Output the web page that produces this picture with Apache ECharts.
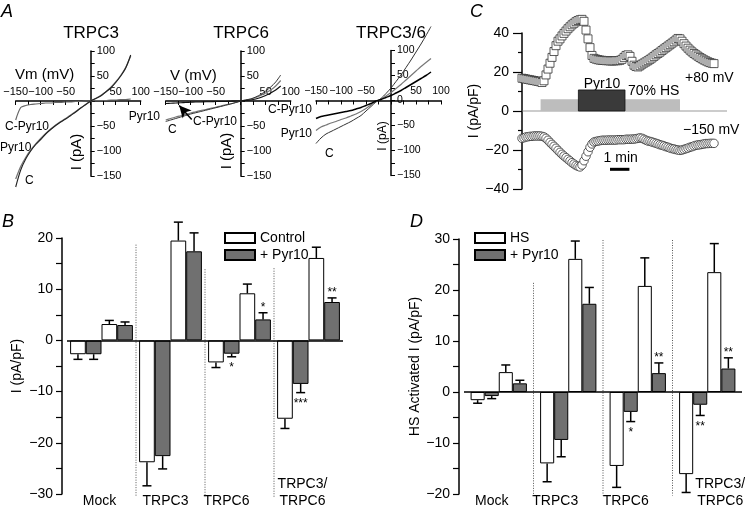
<!DOCTYPE html>
<html>
<head>
<meta charset="utf-8">
<script src="https://cdn.jsdelivr.net/npm/echarts@6/dist/echarts.min.js"></script>
<style>
  html, body { margin: 0; padding: 0; background: #fff; }
  #chart { width: 745px; height: 508px; }
</style>
</head>
<body>
<div id="chart"></div>
<script>
const FONT = '"Liberation Sans", Arial, Helvetica, sans-serif';

// ---- Panel A: ramp I-V curves (pA) ----
const rampVoltage = [-150, -140, -130, -120, -110, -100, -90, -80, -70, -60, -50, -40,
  -30, -20, -10, 0, 10, 20, 30, 40, 50, 60, 70, 80];
const trpc3C = [-172, -138, -116, -100, -87, -77, -66, -57, -49, -42, -36, -29, -22, -14, -7, 0, 5, 10, 18, 26, 37, 50, 66, 92];
const trpc3Pyr = [-156, -131, -113, -98, -86, -75, -65, -56, -48, -41, -35, -28, -21, -14, -7, 0, 5, 11, 18, 27, 38, 51, 67, 90];
const trpc3Diff = [-38, -13, -9, -7, -6, -5, -4, -4, -3, -3, -2, -2, -1, -1, 0, 0, 1, 1, 1, 2, 2, 3, 3, 4];
const trpc6C = [-41, -38, -35, -32, -29, -26, -23.5, -21, -18.5, -16, -13.5, -11, -8.5, -6, -3, 0, 2, 4, 8, 13, 20, 28, 38, 52];
const trpc6Pyr = [-38, -35, -32, -29.5, -27, -24, -21.5, -19, -17, -14.5, -12.5, -10, -7.5, -5.5, -3, 0, 2, 4, 7, 11, 16, 22, 30, 41];
const trpc6Diff = [-5, -4.5, -4, -3.5, -3, -2.5, -2, -2, -1.5, -1.5, -1, -1, -1, -0.5, 0, 0, 1, 2, 4, 7, 11, 16, 22, 30];
const trpc36C = [-86, -75, -67, -62, -57, -52, -47, -42, -36, -30, -21, -12, -3, 4, 14, 25, 38, 51, 66, 81, 97, 113, 130, 148];
const trpc36Pyr = [-60, -53, -49, -45, -42, -38, -35, -31, -27, -22, -16, -9, -2, 3, 9, 16, 24, 32, 41, 50, 59, 68, 76, 84];
const trpc36Diff = [-36, -32, -30, -28, -26, -24, -22, -20, -17, -14, -10, -6, -1, 2, 6, 10, 15, 20, 26, 32, 38, 44, 50, 57];
const trpc6Arrow = [[-98, -37], [-123, -9]];

// ---- Panel C: time course (pA/pF), one value per sweep ----
const currentAt80 = [16.8, 16.6, 16.4, 16.2, 16.0, 15.8, 15.6, 15.4, 15.2, 15.0, 14.6,
  15.5, 18.5, 21.5, 24.5, 27.5, 30.5, 33.5, 35.8,
  37.0, 38.5, 39.8, 41.0, 42.2, 43.2, 44.2, 45.0, 45.8, 46.4, 46.8,
  47.0, 46.0, 41.5, 37.0, 32.5, 28.5, 27.0,
  26.6, 26.3, 26.1, 26.0, 25.9, 25.8, 25.8, 25.7, 25.7, 25.7, 25.8, 25.8,
  26.0, 26.5, 27.5, 28.5, 28.8, 28.0, 25.5, 23.5, 22.8, 22.6,
  23.2, 24.0, 24.6, 25.2, 25.8, 26.5, 27.2, 28.0, 28.8, 29.5, 30.2, 31.0, 31.8, 32.5, 33.3, 34.0, 34.8, 35.5, 36.4, 37.2,
  37.0, 35.8, 34.5, 33.3, 32.2, 31.2, 30.3, 29.5, 28.8, 28.1, 27.4, 26.8, 26.2, 25.7, 25.2, 24.8, 24.5, 24.3];
const currentAtMinus150 = [-14.0, -13.7, -13.3, -13.2, -13.0, -13.0, -12.8, -12.8, -12.8, -12.8, -13.0,
  -13.3, -14.0, -15.0, -16.1, -17.1, -18.1, -19.1, -20.2, -21.2, -22.2, -23.1, -23.9, -24.8, -25.6, -26.5,
  -27.2, -27.9, -28.4, -28.7, -27.7, -25.5, -23.2, -20.9, -18.6, -16.9, -15.9, -15.6, -15.4, -15.2,
  -15.0, -15.0, -15.0, -14.9, -14.9, -14.9, -14.9, -14.9, -14.7, -14.7, -14.7, -14.7, -14.5, -14.5,
  -14.5, -14.4, -14.4, -14.2, -14.0, -13.8, -14.0, -14.5, -15.0, -15.4, -15.6, -15.9, -16.2, -16.6,
  -16.9, -17.3, -17.6, -17.9, -18.3, -18.6, -19.0, -19.3, -19.5, -19.8, -20.0, -20.2, -20.0, -19.7,
  -19.3, -19.0, -18.6, -18.3, -17.9, -17.6, -17.4, -17.3, -17.1, -16.9, -16.7, -16.7, -16.6, -16.6, -16.6];
const hsWindow = [9.3, 79];      // sweep index
const pyrWindow = [28.2, 51.5];
const hsLevel = 6;
const pyrLevel = 10.8;
const baselineSpan = [0.3, 102.5];
const oneMinute = [44, 53.7];
const scaleBarLevel = -29.9;

// ---- Panels B and D: bar charts (pA/pF) ----
const groups = ['Mock', 'TRPC3', 'TRPC6', 'TRPC3/\nTRPC6'];
const bControlNeg = [-2.7, -23.8, -4.3, -15.3];
const bControlNegErr = [-3.7, -28.4, -5.3, -17.2];
const bPyrNeg = [-2.7, -22.6, -2.6, -8.5];
const bPyrNegErr = [-3.7, -25.1, -3.2, -10.2];
const bControlPos = [3.2, 19.5, 9.2, 16.1];
const bControlPosErr = [3.9, 23.1, 11.0, 18.2];
const bPyrPos = [3.0, 17.4, 4.1, 7.5];
const bPyrPosErr = [3.6, 21.0, 5.4, 8.3];
const bStarsNeg = ['', '', '*', '***'];
const bStarsPos = ['', '', '*', '**'];
const bSeparatorTops = [18.7, 13.9, 14.1];

const dHsNeg = [-1.6, -14.0, -14.5, -16.1];
const dHsNegErr = [-2.2, -17.6, -18.7, -19.7];
const dPyrNeg = [-0.8, -9.4, -3.9, -2.5];
const dPyrNegErr = [-1.3, -12.7, -5.8, -4.6];
const dHsPos = [3.9, 26.1, 20.8, 23.5];
const dHsPosErr = [5.3, 29.6, 26.3, 29.1];
const dPyrPos = [1.7, 17.3, 3.7, 4.6];
const dPyrPosErr = [2.3, 20.5, 5.7, 6.7];
const dStarsNeg = ['', '', '*', '**'];
const dStarsPos = ['', '', '**', '**'];
const dSeparatorTops = [21.4, 29.8, 29.8];

const separatorPos = [0.5, 1.5, 2.5];

const WHITE = '#ffffff';
const GRAY = '#707070';

const fmt = v => (v < 0 ? '\u2212' + (-v) : String(v));
const pairs = (xs, ys) => xs.map((x, i) => [x, ys[i]]);

function txt(text, x, y, size, opts = {}) {
  const align = opts.align || 'left';
  return {
    type: 'text', x: x, y: y, rotation: opts.rot || 0, silent: true,
    style: {
      text: text, fill: '#000',
      font: (opts.italic ? 'italic ' : '') + size + 'px ' + FONT,
      textAlign: align, textVerticalAlign: 'middle', align: align, verticalAlign: 'middle'
    }
  };
}

/**
 * Axes of one I-V panel. The axes cross at the origin, placed there by offsets
 * (the panel is 125 px for 250 units, so 0 sits 75 px in from the bottom and the left).
 */
function ivAxes(gi, fs, zeroLabel) {
  const x = {
    gridIndex: gi, type: 'value', min: -150, max: 100, interval: 25, position: 'bottom', offset: -75,
    axisLine: { onZero: false, lineStyle: { color: '#000', width: 1.5 } },
    axisTick: { inside: false, length: 4, lineStyle: { color: '#000', width: 1 } },
    axisLabel: { inside: true, margin: 4, fontSize: fs, color: '#000', fontFamily: FONT,
      formatter: v => (v % 50 === 0 && v !== 0 ? fmt(v) : '') },
    splitLine: { show: false }
  };
  const y = {
    gridIndex: gi, type: 'value', min: -150, max: 100, interval: 25, position: 'left', offset: -75,
    axisLine: { onZero: false, lineStyle: { color: '#000', width: 1.5 } },
    axisTick: { inside: true, length: 4, lineStyle: { color: '#000', width: 1 } },
    axisLabel: { inside: true, margin: 6, fontSize: fs, color: '#000', fontFamily: FONT,
      formatter: v => (v % 50 === 0 && (v !== 0 || zeroLabel) ? fmt(v) : '') },
    splitLine: { show: false }
  };
  return [x, y];
}

function ivLine(gi, values, color, width, extra = {}) {
  return Object.assign({
    type: 'line', xAxisIndex: gi, yAxisIndex: gi, data: pairs(rampVoltage, values),
    showSymbol: false, smooth: 0.3, clip: false, silent: true,
    lineStyle: { color: color, width: width }, z: 3
  }, extra);
}

/**
 * Axes for one bar panel: the category axis with the group labels and a hidden value axis for the separators.
 * Every label is set on two lines so that the last line of all labels sits at the same height.
 */
function barXAxes(gi, shifts) {
  const cats = groups.map((g, i) => {
    const s = shifts[i];
    return { value: g, textStyle: { padding: s < 0 ? [0, -2 * s, 0, 0] : [0, 0, 0, 2 * s] } };
  });
  return [
    { gridIndex: gi, type: 'category', data: cats, position: 'bottom',
      axisLine: { show: false, onZero: false }, axisTick: { show: false }, splitLine: { show: false },
      axisLabel: { interval: 0, margin: -18, fontSize: 14, lineHeight: 17, color: '#000', fontFamily: FONT,
        formatter: v => (v.indexOf('\n') >= 0 ? v : '\n' + v) } },
    { gridIndex: gi, type: 'value', min: -0.5, max: 3.5, show: false }
  ];
}

function barYAxis(gi, min, max, name, gap) {
  return {
    gridIndex: gi, type: 'value', min: min, max: max, interval: 5, offset: 5,
    axisLine: { show: true, onZero: false, lineStyle: { color: '#000', width: 1.5 } },
    axisTick: { show: true, length: 6, lineStyle: { color: '#000', width: 1.2 } },
    axisLabel: { fontSize: 14, color: '#000', margin: 9, fontFamily: FONT,
      formatter: v => (v % 10 === 0 ? fmt(v) : '') },
    splitLine: { show: false },
    name: name, nameLocation: 'middle', nameGap: gap,
    nameTextStyle: { fontSize: 14, color: '#000', fontFamily: FONT }
  };
}

function barSeries(xBar, xSep, yi, sets, gapFrac, sepTops, sepBottom) {
  const out = [];
  const frac = 1 - gapFrac;
  sets.forEach((s, k) => {
    const bar = {
      type: 'bar', name: s.name, xAxisIndex: xBar, yAxisIndex: yi, data: s.vals,
      barGap: '0%', barCategoryGap: Math.round(gapFrac * 100) + '%', silent: true,
      itemStyle: { color: s.fill, borderColor: '#000', borderWidth: 1 }, z: 2
    };
    if (k === sets.length - 1) {
      // zero line across the panel
      bar.markLine = {
        silent: true, symbol: 'none', label: { show: false }, z: 5,
        lineStyle: { color: '#000', width: 1.5, type: 'solid' },
        data: [{ yAxis: 0 }]
      };
    }
    out.push(bar);
    out.push({
      type: 'custom', xAxisIndex: xBar, yAxisIndex: yi, silent: true, z: 4,
      data: s.err.map((e, i) => [i, e]), encode: { x: 0, y: 1 },
      renderItem: (params, api) => {
        const i = api.value(0);
        const end = api.value(1);
        const band = api.size([1, 0])[0];
        const bw = band * frac / 4;
        const cx = api.coord([i, 0])[0] + (k - 1.5) * bw;
        const y0 = api.coord([i, s.vals[i]])[1];
        const y1 = api.coord([i, end])[1];
        const cap = 4.5;
        const children = [
          { type: 'line', shape: { x1: cx, y1: y0, x2: cx, y2: y1 }, style: { stroke: '#000', lineWidth: 1.5 } },
          { type: 'line', shape: { x1: cx - cap, y1: y1, x2: cx + cap, y2: y1 }, style: { stroke: '#000', lineWidth: 1.5 } }
        ];
        const star = s.stars ? s.stars[i] : '';
        if (star) {
          children.push({
            type: 'text', x: cx, y: end < 0 ? y1 + 11 : y1 - 5,
            style: { text: star, fill: '#000', font: '12px ' + FONT,
              align: 'center', verticalAlign: 'middle', textAlign: 'center', textVerticalAlign: 'middle' }
          });
        }
        return { type: 'group', children: children };
      }
    });
  });
  // dotted separators between groups
  out.push({
    type: 'custom', xAxisIndex: xSep, yAxisIndex: yi, silent: true, z: 1,
    data: separatorPos.map((p, i) => [p, sepTops[i], sepBottom]), encode: { x: 0, y: [1, 2] },
    renderItem: (params, api) => {
      const a = api.coord([api.value(0), api.value(1)]);
      const b = api.coord([api.value(0), api.value(2)]);
      return { type: 'line', shape: { x1: a[0], y1: a[1], x2: b[0], y2: b[1] },
        style: { stroke: '#555', lineWidth: 1, lineDash: [1, 1.5] } };
    }
  });
  return out;
}

const chart = echarts.init(document.getElementById('chart'), null, { renderer: 'canvas' });

const ax0 = ivAxes(0, 11, false);
const ax1 = ivAxes(1, 11, false);
const ax2 = ivAxes(2, 10.5, true);

const option = {
  animation: false,
  backgroundColor: '#fff',
  textStyle: { fontFamily: FONT, color: '#000' },
  grid: [
    { left: 15.7, top: 51, width: 125, height: 125, containLabel: false, outerBoundsMode: 'none' },
    { left: 165.7, top: 51, width: 125, height: 125, containLabel: false, outerBoundsMode: 'none' },
    { left: 316, top: 50.5, width: 125, height: 125, containLabel: false, outerBoundsMode: 'none' },
    { left: 522, top: 33, width: 206, height: 156, containLabel: false, outerBoundsMode: 'none' },
    { left: 67, top: 238, width: 276, height: 256, containLabel: false, outerBoundsMode: 'none' },
    { left: 464, top: 239, width: 278, height: 255, containLabel: false, outerBoundsMode: 'none' }
  ],
  xAxis: [
    ax0[0], ax1[0], ax2[0],
    { gridIndex: 3, type: 'value', min: 0, max: 103, show: false },
    ...barXAxes(4, [-2, -5, -13, -6]),
    ...barXAxes(5, [-7, -13, -12, 13])
  ],
  yAxis: [
    ax0[1], ax1[1], ax2[1],
    {
      gridIndex: 3, type: 'value', min: -40, max: 40, interval: 20,
      axisLine: { show: true, onZero: false, lineStyle: { color: '#000', width: 1.5 } },
      axisTick: { show: true, length: 9, lineStyle: { color: '#000', width: 1.2 } },
      minorTick: { show: true, splitNumber: 2, length: 4, lineStyle: { color: '#000', width: 1.2 } },
      axisLabel: { fontSize: 14, color: '#000', margin: 13, formatter: fmt, fontFamily: FONT },
      splitLine: { show: false },
      name: 'I (pA/pF)', nameLocation: 'middle', nameGap: 34,
      nameTextStyle: { fontSize: 14, color: '#000', fontFamily: FONT }
    },
    barYAxis(4, -30, 20, 'I (pA/pF)', 38),
    barYAxis(5, -20, 30, 'HS Activated I (pA/pF)', 37)
  ],
  legend: [
    { data: ['Control', '+ Pyr10'], orient: 'vertical', left: 219, top: 226, itemWidth: 30, itemHeight: 10,
      itemGap: 3, icon: 'rect', selectedMode: false, textStyle: { fontSize: 14, color: '#000', fontFamily: FONT } },
    { data: ['HS', '+ Pyr10'], orient: 'vertical', left: 469, top: 226, itemWidth: 30, itemHeight: 10,
      itemGap: 3, icon: 'rect', selectedMode: false, textStyle: { fontSize: 14, color: '#000', fontFamily: FONT } }
  ],
  series: [
    // A: TRPC3
    ivLine(0, trpc3Diff, '#666', 1.2),
    ivLine(0, trpc3Pyr, '#777', 1.3),
    ivLine(0, trpc3C, '#222', 1.1),
    // A: TRPC6
    ivLine(1, trpc6Pyr, '#777', 1.2),
    ivLine(1, trpc6C, '#333', 1),
    ivLine(1, trpc6Diff, '#111', 1.2, {
      markLine: {
        silent: true, symbol: ['none', 'arrow'], symbolSize: [9, 12], label: { show: false },
        lineStyle: { color: '#000', width: 1.5, type: 'solid' },
        data: [[{ coord: trpc6Arrow[0] }, { coord: trpc6Arrow[1] }]]
      }
    }),
    // A: TRPC3/6
    ivLine(2, trpc36C, '#333', 1),
    ivLine(2, trpc36Pyr, '#777', 1.2),
    ivLine(2, trpc36Diff, '#000', 1.5),
    // C: stimulus bars and baseline
    {
      type: 'line', xAxisIndex: 3, yAxisIndex: 3, silent: true, showSymbol: false, z: 1,
      data: [[baselineSpan[0], 0], [baselineSpan[1], 0]], lineStyle: { color: '#999', width: 1 }
    },
    {
      type: 'custom', xAxisIndex: 3, yAxisIndex: 3, silent: true, z: 2,
      data: [[hsWindow[0], hsWindow[1], hsLevel], [pyrWindow[0], pyrWindow[1], pyrLevel]],
      encode: { x: [0, 1], y: 2 },
      renderItem: (params, api) => {
        const s = api.coord([api.value(0), 0]);
        const e = api.coord([api.value(1), api.value(2)]);
        const fills = ['#bdbdbd', '#3a3a3a'];
        return { type: 'rect', shape: { x: s[0], y: e[1], width: e[0] - s[0], height: s[1] - e[1] },
          style: { fill: fills[params.dataIndex], stroke: params.dataIndex ? '#111' : null, lineWidth: 0.8 } };
      }
    },
    {
      type: 'custom', xAxisIndex: 3, yAxisIndex: 3, silent: true, z: 2,
      data: [[oneMinute[0], oneMinute[1], scaleBarLevel]], encode: { x: [0, 1], y: 2 },
      renderItem: (params, api) => {
        const a = api.coord([api.value(0), api.value(2)]);
        const b = api.coord([api.value(1), api.value(2)]);
        return { type: 'group', children: [
          { type: 'line', shape: { x1: a[0], y1: a[1], x2: b[0], y2: b[1] }, style: { stroke: '#000', lineWidth: 3 } },
          { type: 'text', x: (a[0] + b[0]) / 2 + 1, y: a[1] - 11,
            style: { text: '1 min', fill: '#000', font: '14px ' + FONT, align: 'center', verticalAlign: 'middle',
              textAlign: 'center', textVerticalAlign: 'middle' } }
        ] };
      }
    },
    // C: traces
    {
      type: 'scatter', xAxisIndex: 3, yAxisIndex: 3, silent: true, clip: false, z: 3,
      data: currentAt80.map((v, i) => [i, v]), symbol: 'rect', symbolSize: 8,
      itemStyle: { color: '#fff', borderColor: '#333', borderWidth: 0.8, opacity: 1 }
    },
    {
      type: 'scatter', xAxisIndex: 3, yAxisIndex: 3, silent: true, clip: false, z: 3,
      data: currentAtMinus150.map((v, i) => [i, v]), symbol: 'circle', symbolSize: 8.5,
      itemStyle: { color: '#fff', borderColor: '#333', borderWidth: 0.8, opacity: 1 }
    },
    // B
    ...barSeries(4, 5, 4, [
      { name: 'Control', vals: bControlNeg, err: bControlNegErr, fill: WHITE },
      { name: '+ Pyr10', vals: bPyrNeg, err: bPyrNegErr, fill: GRAY, stars: bStarsNeg },
      { name: 'Control', vals: bControlPos, err: bControlPosErr, fill: WHITE },
      { name: '+ Pyr10', vals: bPyrPos, err: bPyrPosErr, fill: GRAY, stars: bStarsPos }
    ], 0.09, bSeparatorTops, -30.6),
    // D
    ...barSeries(6, 7, 5, [
      { name: 'HS', vals: dHsNeg, err: dHsNegErr, fill: WHITE },
      { name: '+ Pyr10', vals: dPyrNeg, err: dPyrNegErr, fill: GRAY, stars: dStarsNeg },
      { name: 'HS', vals: dHsPos, err: dHsPosErr, fill: WHITE },
      { name: '+ Pyr10', vals: dPyrPos, err: dPyrPosErr, fill: GRAY, stars: dStarsPos }
    ], 0.19, dSeparatorTops, -20.3)
  ],
  graphic: [
    // panel letters
    txt('A', 1, 12, 18, { italic: true }),
    txt('C', 470, 12, 18, { italic: true }),
    txt('B', 2, 222, 18, { italic: true }),
    txt('D', 410, 222, 18, { italic: true }),
    // panel A titles and axis names
    txt('TRPC3', 91, 33, 17, { align: 'center' }),
    txt('TRPC6', 241, 33, 17, { align: 'center' }),
    txt('TRPC3/6', 391, 33, 17, { align: 'center' }),
    txt('Vm (mV)', 15, 75, 15),
    txt('V (mV)', 170, 76, 15),
    txt('I (pA)', 77, 152, 15, { align: 'center', rot: Math.PI / 2 }),
    txt('I (pA)', 227, 151, 15, { align: 'center', rot: Math.PI / 2 }),
    txt('I (pA)', 383, 136, 12, { align: 'center', rot: Math.PI / 2 }),
    // panel A trace labels
    txt('C-Pyr10', 5, 127, 12),
    txt('Pyr10', 0, 148, 12),
    txt('C', 25, 181, 12),
    txt('Pyr10', 160, 117, 12, { align: 'right' }),
    txt('C', 168, 130, 12),
    txt('C-Pyr10', 193, 122, 12),
    txt('C-Pyr10', 312, 110, 12, { align: 'right' }),
    txt('Pyr10', 312, 134, 12, { align: 'right' }),
    txt('C', 325, 154, 12),
    // panel C annotations
    txt('Pyr10', 602, 84, 14, { align: 'center' }),
    txt('70% HS', 628, 91, 14),
    txt('+80 mV', 685, 78, 14),
    txt('\u2212150 mV', 683, 130, 14)
  ]
};

chart.setOption(option);
</script>
</body>
</html>
